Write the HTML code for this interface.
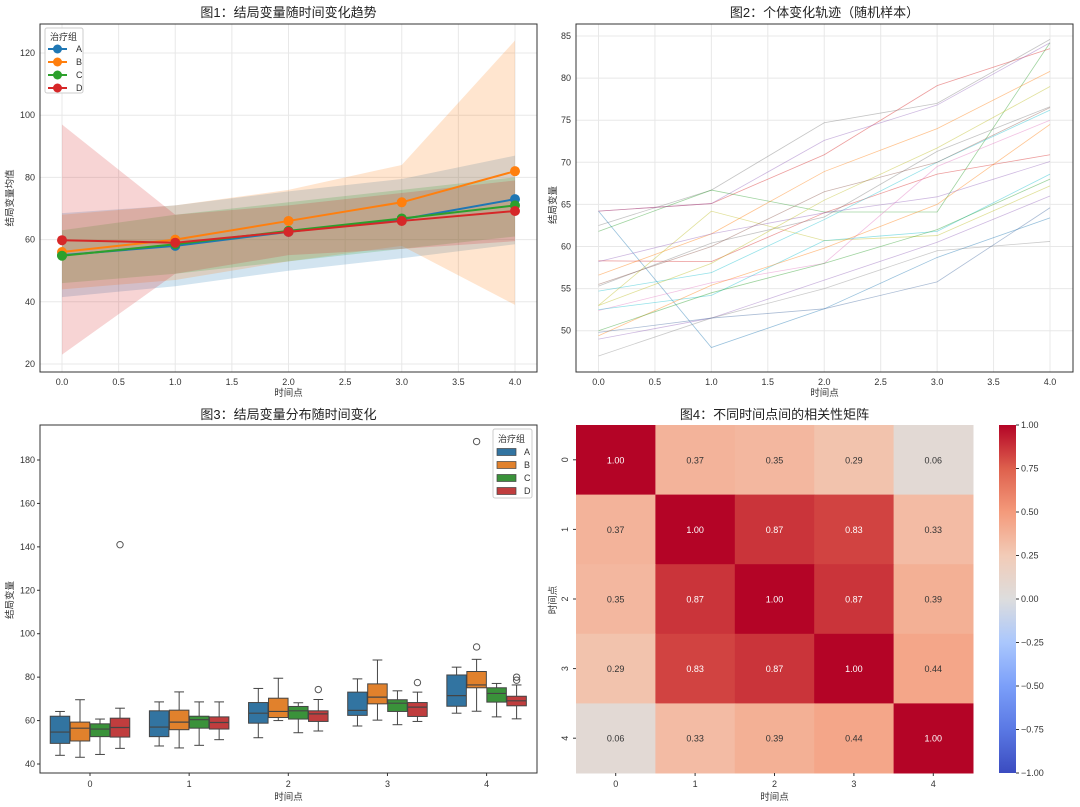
<!DOCTYPE html>
<html><head><meta charset="utf-8">
<style>
body{margin:0;background:#fff;}
svg{display:block;font-family:"Liberation Sans","Noto Sans CJK SC",sans-serif;}
.tk{font-size:9px;fill:#333;}
.ttl{font-size:13px;fill:#222;}
.lab{font-size:9.5px;fill:#333;}
</style></head>
<body>
<svg id="fig" width="1080" height="807" viewBox="0 0 1080 807" xmlns="http://www.w3.org/2000/svg"></svg>
<script>
// ---------- Panel 1 data ----------
const p1Times=[0,1,2,3,4];
const p1Groups=['A','B','C','D'];
const p1MeanA=[55,58,62.5,66.5,73];
const p1MeanB=[56,60,66,72,82];
const p1MeanC=[54.8,58.5,62.8,66.8,71];
const p1MeanD=[59.8,59,62.5,66,69.2];
const p1LoA=[41.5,45,50,54,58.5], p1HiA=[68.5,71,75.5,79.5,87];
const p1LoB=[44,47,53,58,39], p1HiB=[68,71,76,84,124];
const p1LoC=[46,49,53,57,61], p1HiC=[63,68,72,76,80];
const p1LoD=[23,49,55,57,59.5], p1HiD=[97,68,71,75,79];
const p1XTicks=[0,0.5,1,1.5,2,2.5,3,3.5,4];
const p1YTicks=[20,40,60,80,100,120];
// ---------- Panel 2 data ----------
const p2Traj=[
[64.2,65.1,70.9,79.1,83.5],[62.5,66.7,74.7,77.0,84.6],[64.2,48.0,52.6,58.7,63.4],
[61.8,66.7,64.1,64.1,84.2],[58.3,58.2,64.0,68.6,70.9],[56.6,61.5,68.9,74.0,80.8],
[53.0,64.2,60.7,61.3,67.2],[55.3,60.4,63.5,71.3,76.6],[54.7,56.9,63.2,70.0,76.2],
[52.4,55.7,58.0,69.5,75.0],[52.5,54.2,60.7,61.8,68.6],[49.4,55.4,59.8,65.0,74.5],
[49.0,51.5,56.0,60.5,66.0],[47.0,51.5,55.0,59.5,60.6],[49.8,51.5,52.6,55.8,64.6],
[58.2,61.5,64.0,65.9,70.1],[53.0,58.0,65.5,71.7,79.0],[64.2,65.1,72.6,76.8,84.2],
[50.0,54.5,58.0,62.0,68.0],[55.5,60.0,66.5,70.0,76.5]];
const p2YTicks=[50,55,60,65,70,75,80,85];
// ---------- Panel 3 data: [q1, median, q3, whiskerLow, whiskerHigh] ----------
const p3Cats=[0,1,2,3,4];
const p3BoxA=[[49.5,54.7,62.0,44.0,64.2],[52.6,57,64.5,48.3,68.6],[58.8,63.4,68.3,52.1,74.8],[62.4,64.7,73.1,57.5,79.2],[66.6,71.5,81.0,63.4,84.6]];
const p3BoxB=[[50.6,56.5,59.3,43.1,69.6],[55.8,59.3,64.8,47.4,73.2],[61.4,64.2,70.3,60,79.5],[67.7,70.8,76.9,60.2,87.9],[75.1,76.4,82.6,64.3,88.2]];
const p3BoxC=[[52.6,56.1,58.5,44.4,60.7],[56.5,60.4,62,48.6,68.6],[60.7,64.5,66.5,54.4,68.2],[64.2,68.0,69.6,58.1,73.7],[68.5,72.5,75.1,61.7,77.1]];
const p3BoxD=[[52.4,56.8,61.1,47.2,65.7],[56.1,59.1,61.7,51.2,68.6],[59.6,63.1,64.5,55.2,69.7],[61.9,66.2,68.3,59.6,73.1],[66.8,69.1,71.2,60.8,76.4]];
const p3Outliers=[[0,3,141],[2,3,74.3],[3,3,77.5],[4,1,93.9],[4,1,188.5],[4,3,80],[4,3,78.6]];
const p3YTicks=[40,60,80,100,120,140,160,180];
// ---------- Panel 4 data ----------
const p4Labels=['0','1','2','3','4'];
const p4Corr=[[1,0.37,0.35,0.29,0.06],[0.37,1,0.87,0.83,0.33],[0.35,0.87,1,0.87,0.39],[0.29,0.83,0.87,1,0.44],[0.06,0.33,0.39,0.44,1]];
const p4CbTicks=[1,0.75,0.5,0.25,0,-0.25,-0.5,-0.75,-1];

const svg=document.getElementById('fig');
const NS='http://www.w3.org/2000/svg';
function mk(tag,attrs,parent){const e=document.createElementNS(NS,tag);for(const k in attrs)e.setAttribute(k,attrs[k]);(parent||svg).appendChild(e);return e;}
function txt(s,attrs,parent){const e=mk('text',attrs,parent);e.textContent=s;return e;}
const colors=['#1f77b4','#ff7f0e','#2ca02c','#d62728'];
const boxColors=['#3274a1','#e1812c','#3a923a','#c03d3e'];

// ===== Panel 1 =====
{
const L=40,R=537,T=24,B=372;
const xs=v=>62+(v-0)*(515-62)/4;
const ys=v=>364-(v-20)*(364-53)/100;
const g=mk('g',{});


p1YTicks.forEach(v=>{const l=mk('line',{x1:L,x2:R,y1:ys(v),y2:ys(v),stroke:'#e8e8e8','stroke-width':1},g);

const t=txt(v,{x:L-5,y:ys(v)+3,'text-anchor':'end',class:'tk'},g);
});
p1XTicks.forEach(v=>{const l=mk('line',{x1:xs(v),x2:xs(v),y1:T,y2:B,stroke:'#e8e8e8','stroke-width':1},g);

const t=txt(v.toFixed(1),{x:xs(v),y:B+13,'text-anchor':'middle',class:'tk'},g);
});
const means=[p1MeanA,p1MeanB,p1MeanC,p1MeanD],los=[p1LoA,p1LoB,p1LoC,p1LoD],his=[p1HiA,p1HiB,p1HiC,p1HiD];
means.forEach((m,i)=>{
 let d='M'+p1Times.map((t,j)=>xs(t)+','+ys(his[i][j])).join('L')+'L'+p1Times.slice().reverse().map((t,j)=>xs(t)+','+ys(los[i][4-j])).join('L')+'Z';
 const p=mk('path',{d:d,fill:colors[i],'fill-opacity':0.2},g);
 
});
means.forEach((m,i)=>{
 const pl=mk('polyline',{points:p1Times.map((t,j)=>xs(t)+','+ys(m[j])).join(' '),fill:'none',stroke:colors[i],'stroke-width':2},g);
 
 p1Times.forEach((t,j)=>{const c=mk('circle',{cx:xs(t),cy:ys(m[j]),r:5,fill:colors[i]},g);
 });
});
const fr=mk('rect',{x:L,y:T,width:R-L,height:B-T,fill:'none',stroke:'#333','stroke-width':1},g);

const t1=txt('图1：结局变量随时间变化趋势',{x:(L+R)/2,y:17,'text-anchor':'middle',class:'ttl'},g);

const xl=txt('时间点',{x:(L+R)/2,y:396,'text-anchor':'middle',class:'lab'},g);

const yl=txt('结局变量均值',{x:0,y:0,'text-anchor':'middle',class:'lab',transform:'translate(13,198) rotate(-90)'},g);

const lg=mk('g',{},g);
mk('rect',{x:45,y:28,width:38,height:65,fill:'#fff','fill-opacity':0.85,stroke:'#ccc',rx:2},lg);
txt('治疗组',{x:50,y:40,class:'tk'},lg);
p1Groups.forEach((n,i)=>{const y=49+i*13;
 const e=mk('g',{},lg);
 mk('line',{x1:48,x2:67,y1:y,y2:y,stroke:colors[i],'stroke-width':2},e);
 mk('circle',{cx:57.5,cy:y,r:4.5,fill:colors[i]},e);
 txt(n,{x:76,y:y+3,class:'tk'},e);});
}

// ===== Panel 2 =====
{
const L=576,R=1073,T=24,B=372;
const xs=v=>598.5+v*(1050-598.5)/4;
const ys=v=>330.7-(v-50)*(330.7-36)/35;
const g=mk('g',{});
p2YTicks.forEach(v=>{const l=mk('line',{x1:L,x2:R,y1:ys(v),y2:ys(v),stroke:'#e8e8e8'},g);

const t=txt(v,{x:L-5,y:ys(v)+3,'text-anchor':'end',class:'tk'},g);});
p1XTicks.forEach(v=>{const l=mk('line',{x1:xs(v),x2:xs(v),y1:T,y2:B,stroke:'#e8e8e8'},g);

const t=txt(v.toFixed(1),{x:xs(v),y:B+13,'text-anchor':'middle',class:'tk'},g);});
const tc=['#d62728','#7f7f7f','#1f77b4','#2ca02c','#d62728','#ff7f0e','#bcbd22','#7f7f7f','#17becf','#e377c2','#17becf','#ff7f0e','#9467bd','#8c8c8c','#4a6fa5','#9467bd','#bcbd22','#9467bd','#2ca02c','#8c564b'];
p2Traj.forEach((tr,i)=>{const pl=mk('polyline',{points:p1Times.map((t,j)=>xs(t)+','+ys(tr[j])).join(' '),fill:'none',stroke:tc[i],'stroke-width':0.8,'stroke-opacity':0.45},g);
});
const fr=mk('rect',{x:L,y:T,width:R-L,height:B-T,fill:'none',stroke:'#333'},g);
const t1=txt('图2：个体变化轨迹（随机样本）',{x:(L+R)/2,y:17,'text-anchor':'middle',class:'ttl'},g);
const xl=txt('时间点',{x:(L+R)/2,y:396,'text-anchor':'middle',class:'lab'},g);
const yl=txt('结局变量',{x:0,y:0,'text-anchor':'middle',class:'lab',transform:'translate(556,205) rotate(-90)'},g);
}

// ===== Panel 3 =====
{
const L=40,R=537,T=425,B=773;
const xs=c=>90+c*(486.6-90)/4;
const ys=v=>764-(v-40)*(764-460)/140;
const g=mk('g',{});
p3YTicks.forEach(v=>{mk('line',{x1:L-3,x2:L,y1:ys(v),y2:ys(v),stroke:'#333'},g);
const t=txt(v,{x:L-5,y:ys(v)+3,'text-anchor':'end',class:'tk'},g);});
p3Cats.forEach(c=>{mk('line',{x1:xs(c),x2:xs(c),y1:B,y2:B+3,stroke:'#333'},g);
const t=txt(c,{x:xs(c),y:B+14,'text-anchor':'middle',class:'tk'},g);});
const boxes=[p3BoxA,p3BoxB,p3BoxC,p3BoxD];const off=[-30,-10,10,30];
boxes.forEach((bs,gi)=>bs.forEach((b,ci)=>{
 const cx=xs(p3Cats[ci])+off[gi],w=19.5;
 const bg=mk('g',{},g);
 mk('line',{x1:cx,x2:cx,y1:ys(b[2]),y2:ys(b[4]),stroke:'#444'},bg);
 mk('line',{x1:cx,x2:cx,y1:ys(b[0]),y2:ys(b[3]),stroke:'#444'},bg);
 mk('line',{x1:cx-w/4,x2:cx+w/4,y1:ys(b[4]),y2:ys(b[4]),stroke:'#444'},bg);
 mk('line',{x1:cx-w/4,x2:cx+w/4,y1:ys(b[3]),y2:ys(b[3]),stroke:'#444'},bg);
 mk('rect',{x:cx-w/2,y:ys(b[2]),width:w,height:ys(b[0])-ys(b[2]),fill:boxColors[gi],stroke:'#444'},bg);
 mk('line',{x1:cx-w/2,x2:cx+w/2,y1:ys(b[1]),y2:ys(b[1]),stroke:'#444','stroke-width':1.2},bg);
}));
p3Outliers.forEach(o=>{const c=mk('circle',{cx:xs(o[0])+off[o[1]],cy:ys(o[2]),r:3.2,fill:'none',stroke:'#555'},g);
});
const fr=mk('rect',{x:L,y:T,width:R-L,height:B-T,fill:'none',stroke:'#333'},g);
const t1=txt('图3：结局变量分布随时间变化',{x:(L+R)/2,y:419,'text-anchor':'middle',class:'ttl'},g);
const xl=txt('时间点',{x:(L+R)/2,y:800,'text-anchor':'middle',class:'lab'},g);
const yl=txt('结局变量',{x:0,y:0,'text-anchor':'middle',class:'lab',transform:'translate(13,600) rotate(-90)'},g);
const lg=mk('g',{},g);
mk('rect',{x:493,y:429,width:39,height:69,fill:'#fff','fill-opacity':0.85,stroke:'#ccc',rx:2},lg);
txt('治疗组',{x:498,y:442,class:'tk'},lg);
p1Groups.forEach((n,i)=>{const y=452+i*13;
 const e=mk('g',{},lg);
 mk('rect',{x:497,y:y-3.5,width:19,height:7,fill:boxColors[i],stroke:'#444','stroke-width':0.7},e);
 txt(n,{x:524,y:y+3,class:'tk'},e);});
}

// ===== Panel 4 =====
{
const L=576,R=973,T=425,B=773;
const cw=(R-L)/5,ch=(B-T)/5;
const stops=[[0,[59,76,192]],[0.125,[90,120,228]],[0.25,[123,159,249]],[0.375,[170,199,253]],[0.5,[221,221,221]],[0.625,[242,203,183]],[0.75,[244,154,123]],[0.875,[222,96,77]],[1,[180,4,38]]];
function cmap(v){const t=(v+1)/2;for(let i=1;i<stops.length;i++){if(t<=stops[i][0]){const a=stops[i-1],b=stops[i],f=(t-a[0])/(b[0]-a[0]);return 'rgb('+a[1].map((c,k)=>Math.round(c+(b[1][k]-c)*f)).join(',')+')';}}return 'rgb(180,4,38)';}
const g=mk('g',{});
p4Corr.forEach((row,r)=>row.forEach((v,c)=>{
 const cell=mk('rect',{x:L+c*cw,y:T+r*ch,width:cw+0.5,height:ch+0.5,fill:cmap(v)},g);
 
 const t=txt(v.toFixed(2),{x:L+(c+0.5)*cw,y:T+(r+0.5)*ch+3.5,'text-anchor':'middle',class:'tk',style:'fill:'+(v>0.6?'#fff':'#333')},g);
 
}));
p4Labels.forEach((s,i)=>{
 mk('line',{x1:L+(i+0.5)*cw,x2:L+(i+0.5)*cw,y1:B,y2:B+3,stroke:'#333'},g);
 const t=txt(s,{x:L+(i+0.5)*cw,y:B+14,'text-anchor':'middle',class:'tk'},g);
 mk('line',{x1:L-3,x2:L,y1:T+(i+0.5)*ch,y2:T+(i+0.5)*ch,stroke:'#333'},g);
 const t2=txt(s,{x:0,y:0,'text-anchor':'middle',class:'tk',transform:'translate('+(L-8)+','+(T+(i+0.5)*ch)+') rotate(-90)'},g);
});
const t1=txt('图4：不同时间点间的相关性矩阵',{x:(L+R)/2,y:419,'text-anchor':'middle',class:'ttl'},g);
const xl=txt('时间点',{x:(L+R)/2,y:800,'text-anchor':'middle',class:'lab'},g);
const yl=txt('时间点',{x:0,y:0,'text-anchor':'middle',class:'lab',transform:'translate(556,600) rotate(-90)'},g);
// colorbar
const cb=mk('g',{},g);
const defs=mk('defs',{},cb);const lgd=mk('linearGradient',{id:'cbg',x1:0,y1:1,x2:0,y2:0},defs);
stops.forEach(s=>mk('stop',{offset:s[0],'stop-color':'rgb('+s[1].join(',')+')'},lgd));
mk('rect',{x:999,y:T,width:17,height:B-T,fill:'url(#cbg)'},cb);
const cys=v=>T+(1-v)/2*(B-T);
p4CbTicks.forEach(v=>{mk('line',{x1:1016,x2:1019,y1:cys(v),y2:cys(v),stroke:'#333'},cb);
 const t=txt(v.toFixed(2).replace('-','−'),{x:1021,y:cys(v)+3,class:'tk'},cb);});
}
</script>
</body></html>
